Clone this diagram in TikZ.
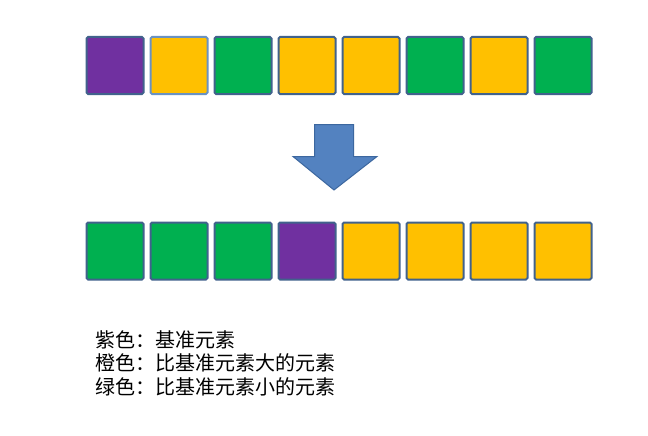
\documentclass[tikz,border=0pt]{standalone}
\usepackage{fontspec}
\newfontfamily\cjk{Noto Sans CJK SC}
\definecolor{cpurple}{HTML}{7030A0}
\definecolor{corange}{HTML}{FFC000}
\definecolor{cgreen}{HTML}{00B050}
\definecolor{cedge}{HTML}{41628C}
\definecolor{cedgelight}{HTML}{6A92C2}
\definecolor{carrow}{HTML}{5382C0}
\definecolor{carrowedge}{HTML}{3C679F}
\begin{document}
\begin{tikzpicture}[x=1pt,y=-1pt,
  cell/.style={draw=cedge,line width=2pt,rounded corners=1.5pt,minimum width=57pt,minimum height=57pt,inner sep=0pt,anchor=north west},
  pu/.style={cell,fill=cpurple},
  og/.style={cell,fill=corange},
  gr/.style={cell,fill=cgreen},
  legend/.style={anchor=north west,align=left,inner sep=0pt,font=\cjk\fontsize{20pt}{23.5pt}\selectfont}]
\useasboundingbox[fill=white] (0,0) rectangle (648,436);
% top row
\node[pu] (t1) at (85.5,36) {};
\node[og,draw=cedgelight] (t2) at (149.5,36) {};
\node[gr] (t3) at (213.5,36) {};
\node[og] (t4) at (277.5,36) {};
\node[og] (t5) at (341.5,36) {};
\node[gr] (t6) at (405.5,36) {};
\node[og] (t7) at (469.5,36) {};
\node[gr] (t8) at (533.5,36) {};
% arrow
\draw[fill=carrow,draw=carrowedge,line width=1pt,line join=miter]
  (314.5,124.5) -- (353.5,124.5) -- (353.5,156.5) -- (377,156.5) -- (334,190) -- (293,156.5) -- (314.5,156.5) -- cycle;
% bottom row
\node[gr] (b1) at (85.5,221.5) {};
\node[gr] (b2) at (149.5,221.5) {};
\node[gr] (b3) at (213.5,221.5) {};
\node[pu] (b4) at (277.5,221.5) {};
\node[og] (b5) at (341.5,221.5) {};
\node[og] (b6) at (405.5,221.5) {};
\node[og] (b7) at (469.5,221.5) {};
\node[og] (b8) at (533.5,221.5) {};
% legend
\node[legend] (lg) at (95,330) {紫色：基准元素\\橙色：比基准元素大的元素\\绿色：比基准元素小的元素};
\end{tikzpicture}
\end{document}
